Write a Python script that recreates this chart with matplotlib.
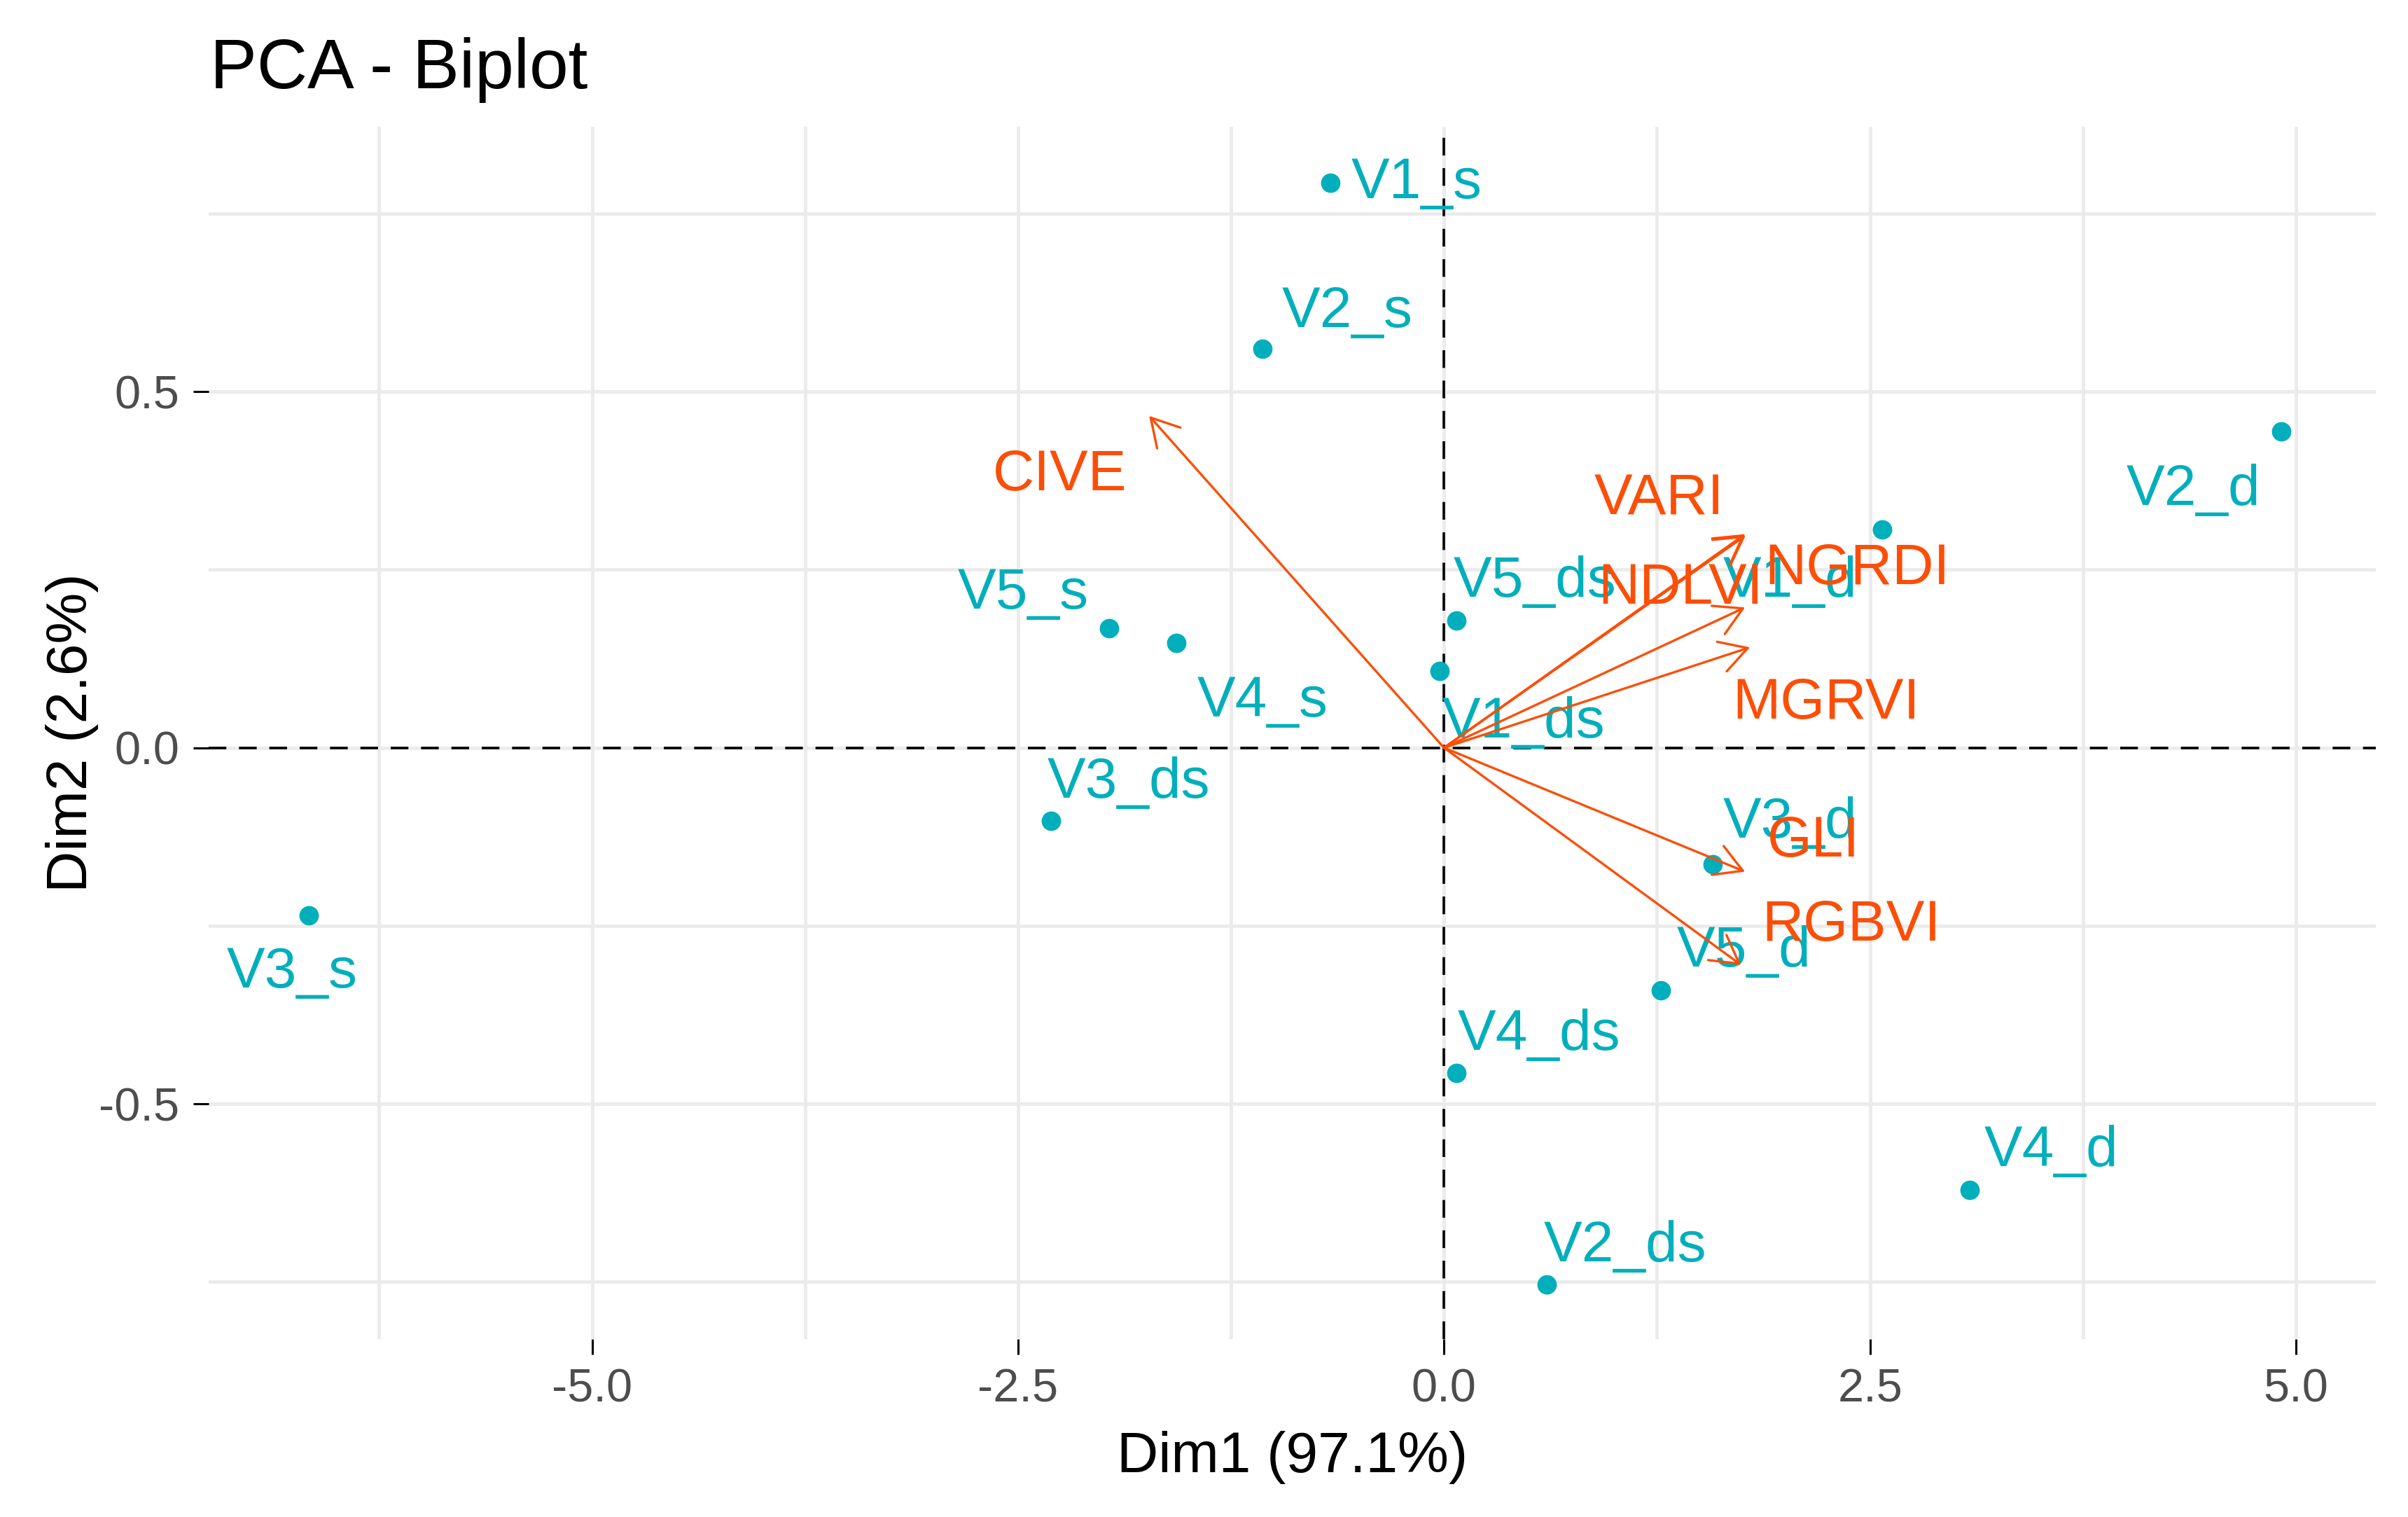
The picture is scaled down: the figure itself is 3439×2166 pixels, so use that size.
import matplotlib.pyplot as plt

plt.rcParams['font.family'] = ['Liberation Sans', 'DejaVu Sans']
plt.rcParams['axes.unicode_minus'] = False

# individuals (PCA scores)
ind_names = ["V1_s", "V2_s", "V2_d", "V1_d", "V5_ds", "V1_ds", "V5_s", "V4_s",
             "V3_ds", "V3_s", "V3_d", "V5_d", "V4_ds", "V4_d", "V2_ds"]
ind_x = [-0.667, -1.064, 4.914, 2.570, 0.072, -0.027, -1.966, -1.569,
         -2.308, -6.664, 1.578, 1.271, 0.072, 3.084, 0.604]
ind_y = [0.793, 0.560, 0.444, 0.306, 0.179, 0.108, 0.168, 0.147,
         -0.103, -0.235, -0.164, -0.341, -0.457, -0.621, -0.754]
# repelled label positions (baseline)
ind_lab_x = [-0.162, -0.568, 4.400, 2.029, 0.532, 0.469, -2.471, -1.064,
             -1.849, -6.763, 2.029, 1.758, 0.559, 3.562, 1.064]
ind_lab_y = [0.772, 0.591, 0.341, 0.212, 0.212, 0.014, 0.195, 0.044,
             -0.070, -0.337, -0.126, -0.307, -0.424, -0.587, -0.721]

# variables (loadings, scaled)
var_names = ["CIVE", "VARI", "NGRDI", "NDLVI", "MGRVI", "GLI", "RGBVI"]
var_x = [-1.731, 1.768, 1.770, 1.767, 1.796, 1.767, 1.744]
var_y = [0.466, 0.300, 0.298, 0.197, 0.141, -0.174, -0.305]
var_lab_x = [-2.254, 1.262, 2.426, 1.389, 2.241, 2.170, 2.390]
var_lab_y = [0.362, 0.328, 0.230, 0.202, 0.041, -0.153, -0.271]

ind_col = "#00AFBB"
var_col = "#FC4E07"

fig = plt.figure(figsize=(17.195, 10.83), dpi=200)
ax = fig.add_axes([0.0867, 0.1174, 0.9, 0.7991])

ax.set_xlim(-7.25, 5.47)
ax.set_ylim(-0.830, 0.872)

# grid like theme_minimal
ax.set_xticks([-5.0, -2.5, 0.0, 2.5, 5.0])
ax.set_yticks([-0.5, 0.0, 0.5])
ax.set_xticks([-6.25, -3.75, -1.25, 1.25, 3.75], minor=True)
ax.set_yticks([-0.75, -0.25, 0.25, 0.75], minor=True)
ax.grid(True, which='both', color='#EBEBEB', linewidth=1.7, zorder=0)
ax.set_axisbelow(True)
for s in ax.spines.values():
    s.set_visible(False)
ax.tick_params(which='major', length=8, width=1.1, color='black',
               labelsize=24, labelcolor='#4D4D4D', pad=7)
ax.tick_params(which='minor', length=0)

ax.axhline(0, color='black', linewidth=1.3, linestyle=(0, (7, 5)), zorder=1)
ax.axvline(0, color='black', linewidth=1.3, linestyle=(0, (7, 5)), zorder=1)

# individuals
ax.scatter(ind_x, ind_y, s=100, color=ind_col, linewidths=0, zorder=3)
for name, lx, ly in zip(ind_names, ind_lab_x, ind_lab_y):
    ax.text(lx, ly, name, color=ind_col, fontsize=29.5,
            ha='center', va='baseline', zorder=4)

# variables
for name, vx, vy, lx, ly in zip(var_names, var_x, var_y, var_lab_x, var_lab_y):
    ax.annotate('', xy=(vx, vy), xytext=(0, 0),
                arrowprops=dict(arrowstyle='->,head_length=0.7,head_width=0.4',
                                color=var_col, lw=1.2, mutation_scale=20,
                                shrinkA=0, shrinkB=0),
                zorder=5)
    ax.text(lx, ly, name, color=var_col, fontsize=29.5,
            ha='center', va='baseline', zorder=6)

ax.set_xlabel('Dim1 (97.1%)', fontsize=29.5, color='black', labelpad=10)
ax.set_ylabel('Dim2 (2.6%)', fontsize=29.5, color='black', labelpad=0)

fig.text(0.0873, 0.942, 'PCA - Biplot', fontsize=36, color='black',
         ha='left', va='baseline')

fig.savefig('out.png', dpi=200, facecolor='white')
